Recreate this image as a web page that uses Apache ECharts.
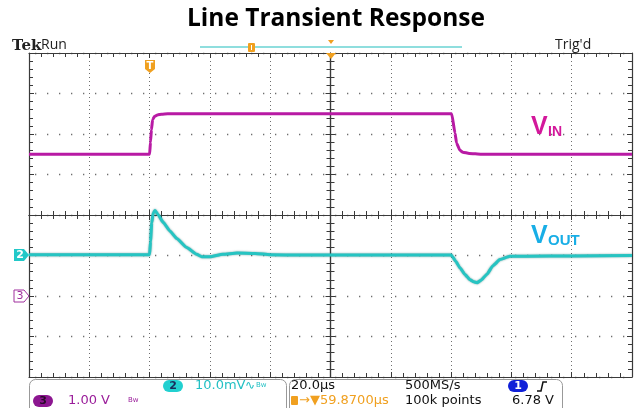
<!DOCTYPE html>
<html>
<head>
<meta charset="utf-8">
<script src="https://cdn.jsdelivr.net/npm/echarts/dist/echarts.min.js"></script>
<style>
  html, body { margin: 0; padding: 0; background: #fff; }
  #chart { width: 635px; height: 408px; }
</style>
</head>
<body>
<div id="chart"></div>
<script>
// time in µs, 0 = trigger point (20 µs/div)
const vinTime = [-40, 0, 0.3, 0.6, 1.0, 1.6, 2.6, 4, 6, 100.2, 101.3, 101.8, 102.9, 103.9, 106, 110, 160]
// channel 3, volts (1.00 V/div)
const vinVolts = [3.5, 3.5, 3.8, 4.1, 4.35, 4.43, 4.47, 4.49, 4.5, 4.5, 4.02, 3.78, 3.6, 3.55, 3.52, 3.5, 3.5]

const voutTime = [-40, 0, 0.3, 0.7, 1.2, 1.8, 2.9, 4.5, 6.8, 9.0, 12.3, 15.6, 17.3, 20.0, 24.3, 29, 35, 40, 50,
	100, 100.5, 101.5, 103, 104.6, 106.3, 107.5, 108.6, 109.8, 111.9, 113.9, 116.2, 119.5, 125, 140, 160]
// channel 2, mV (10.0 mV/div)
const voutMv = [0.2, 0.2, 3.5, 8, 10.5, 11.1, 10.0, 8.2, 6.0, 4.2, 2.0, 0.3, -0.3, -0.3, 0.3, 0.6, 0.5, 0.2, 0.1,
	0.1, -0.3, -1.4, -3.1, -4.7, -6.0, -6.5, -6.7, -6.2, -4.6, -2.5, -1.0, -0.2, -0.2, -0.1, 0]

const tickColor = '#3a3a3a'
const dotColor = '#6e6e6e'

let myChart = echarts.init(document.getElementById('chart'))

// graticule axis helper
function gAxis(base, opt) {
	return Object.assign({
		axisLabel: { show: false },
		axisLine: { show: true, onZero: false, lineStyle: { color: tickColor, width: 1.2 } },
		axisTick: { show: true, inside: true, length: 5, lineStyle: { color: tickColor } },
		minorTick: { show: true, splitNumber: 5, length: 4, lineStyle: { color: tickColor } },
		splitLine: { show: false }
	}, base, opt)
}
const xBase = { type: 'value', min: -40, max: 160, interval: 20 }
const divBase = { type: 'value', min: -4, max: 4, interval: 1 }

function txt(x, y, text, color, font, extra) {
	return {
		type: 'text', x: x, y: y, z: 110,
		style: Object.assign({ text: text, fill: color, font: font, align: 'left', verticalAlign: 'middle' }, extra || {})
	}
}

let option = {
	animation: false,
	backgroundColor: '#fff',
	title: {
		text: 'Line Transient Response',
		left: 182,
		top: 2,
		textStyle: { fontFamily: 'Open Sans', fontWeight: 'bold', fontSize: 24.5, color: '#000' }
	},
	grid: { left: 29, right: 3, top: 53, bottom: 31, containLabel: false },
	xAxis: [
		gAxis(xBase, { position: 'bottom', splitLine: { show: true, lineStyle: { color: dotColor, type: [1, 3] } } }),
		gAxis(xBase, { position: 'top' }),
		gAxis(xBase, { position: 'bottom', offset: -162 }),
		gAxis(xBase, { position: 'bottom', offset: -162, axisTick: { show: true, inside: false, length: 5, lineStyle: { color: tickColor } } })
	],
	yAxis: [
		// channel 3 (V)
		gAxis({ type: 'value', min: -2, max: 6, interval: 1 }, { position: 'left', splitLine: { show: true, lineStyle: { color: dotColor, width: 1.3, type: [1.3, 10.7], dashOffset: 6 } } }),
		// channel 2 (mV)
		gAxis({ type: 'value', min: -30, max: 50, interval: 10 }, { position: 'right' }),
		gAxis(divBase, { position: 'left', offset: -301.5 }),
		gAxis(divBase, { position: 'left', offset: -301.5, axisTick: { show: true, inside: false, length: 5, lineStyle: { color: tickColor } } })
	],
	series: [
		{
			name: 'VIN',
			type: 'line',
			xAxisIndex: 0,
			yAxisIndex: 0,
			showSymbol: false,
			smooth: 0.15,
			smoothMonotone: 'x',
			lineStyle: { color: '#b81aa4', width: 3 },
			data: vinTime.map((t, i) => [t, vinVolts[i]])
		},
		{
			name: 'VOUT',
			type: 'line',
			xAxisIndex: 0,
			yAxisIndex: 1,
			showSymbol: false,
			smooth: 0.15,
			smoothMonotone: 'x',
			lineStyle: { color: '#26c4c2', width: 3, shadowColor: 'rgba(10,100,100,0.6)', shadowBlur: 2 },
			data: voutTime.map((t, i) => [t, voutMv[i]])
		}
	],
	graphic: [
		// header
		txt(12, 46, 'Tek', '#222', 'bold 15px "DejaVu Serif"'),
		txt(41, 45, 'Run', '#222', '14px "Open Sans"'),
		txt(555, 45, "Trig'd", '#222', '14px "Open Sans"'),
		{ type: 'rect', z: 100, shape: { x: 200, y: 46, width: 262, height: 2 }, style: { fill: '#8fdede' } },
		{ type: 'rect', z: 101, shape: { x: 248, y: 43, width: 7, height: 9, r: 1 }, style: { fill: '#f0a020' } },
		{ type: 'rect', z: 102, shape: { x: 251, y: 45, width: 1, height: 5 }, style: { fill: '#fff' } },
		{ type: 'polygon', z: 101, shape: { points: [[328, 40], [334, 40], [331, 44]] }, style: { fill: '#f0a020' } },
		{ type: 'polygon', z: 101, shape: { points: [[326, 53], [336, 53], [331, 59]] }, style: { fill: '#f0a020' } },
		// trigger marker
		{ type: 'polygon', z: 101, shape: { points: [[145, 60], [155, 60], [155, 69], [150, 73], [145, 69]] }, style: { fill: '#f0a020' } },
		txt(150, 66, 'T', '#fff', 'bold 10px "DejaVu Sans"', { align: 'center' }),
		// channel ground markers
		{ type: 'polygon', z: 101, shape: { points: [[14, 249], [24, 249], [29, 255], [24, 261], [14, 261]] }, style: { fill: '#22c8c8' } },
		txt(20, 255, '2', '#fff', 'bold 11px "DejaVu Sans"', { align: 'center' }),
		{ type: 'polygon', z: 101, shape: { points: [[14, 290], [24, 290], [29, 296], [24, 302], [14, 302]] }, style: { fill: '#fff', stroke: '#a0309e', lineWidth: 1 } },
		txt(20, 296, '3', '#a0309e', '11px "DejaVu Sans"', { align: 'center' }),
		// trace labels
		txt(531, 127, 'V', '#d3189b', 'bold 25px "Liberation Sans"'),
		txt(548, 132, 'IN', '#d3189b', 'bold 14px "Liberation Sans"'),
		txt(531, 236, 'V', '#18aee6', 'bold 25px "Liberation Sans"'),
		txt(548, 241, 'OUT', '#18aee6', 'bold 15px "Liberation Sans"'),
		// status boxes
		{ type: 'rect', z: 100, shape: { x: 29.5, y: 379.5, width: 257, height: 40, r: 6 }, style: { fill: '#fff', stroke: '#999', lineWidth: 1 } },
		{ type: 'rect', z: 100, shape: { x: 289.5, y: 379.5, width: 273, height: 40, r: 6 }, style: { fill: '#fff', stroke: '#999', lineWidth: 1 } },
		{ type: 'rect', z: 101, shape: { x: 163, y: 380, width: 20, height: 12, r: 6 }, style: { fill: '#22d0d0' } },
		txt(173, 386, '2', '#1a2a5a', 'bold 11px "DejaVu Sans"', { align: 'center' }),
		txt(195, 386, '10.0mV', '#22c0c4', '13px "DejaVu Sans"'),
		txt(245, 386, '\u223F', '#22c0c4', '12px "DejaVu Sans"'),
		txt(256, 385, 'Bw', '#22c0c4', '7px "DejaVu Sans"'),
		{ type: 'rect', z: 101, shape: { x: 33, y: 395, width: 20, height: 12, r: 6 }, style: { fill: '#8c1690' } },
		txt(43, 401, '3', '#2a0a2a', 'bold 11px "DejaVu Sans"', { align: 'center' }),
		txt(68, 401, '1.00 V', '#9a1d9a', '13px "DejaVu Sans"'),
		txt(128, 400, 'Bw', '#9a1d9a', '7px "DejaVu Sans"'),
		txt(291, 386, '20.0\u00b5s', '#111', '13px "DejaVu Sans"'),
		{ type: 'rect', z: 101, shape: { x: 291, y: 396, width: 7, height: 9, r: 1 }, style: { fill: '#f0a020' } },
		txt(299, 401, '\u2192\u25bc59.8700\u00b5s', '#f0a020', '13px "DejaVu Sans"'),
		txt(405, 386, '500MS/s', '#111', '13px "DejaVu Sans"'),
		txt(405, 401, '100k points', '#111', '13px "DejaVu Sans"'),
		{ type: 'rect', z: 101, shape: { x: 508, y: 380, width: 20, height: 12, r: 6 }, style: { fill: '#1020d8' } },
		txt(518, 386, '1', '#fff', 'bold 11px "DejaVu Sans"', { align: 'center' }),
		{ type: 'polyline', z: 101, shape: { points: [[537, 391], [541, 391], [543, 382], [547, 382]] }, style: { stroke: '#111', lineWidth: 1.5, fill: null } },
		txt(512, 401, '6.78 V', '#111', '13px "DejaVu Sans"')
	]
}
myChart.setOption(option)
</script>
</body>
</html>
